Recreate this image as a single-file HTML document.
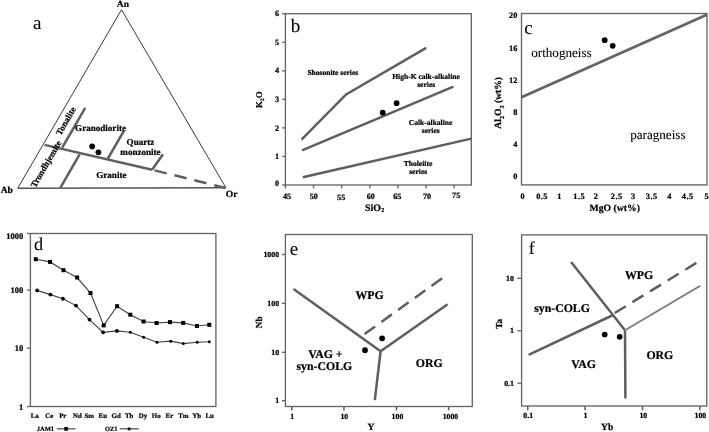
<!DOCTYPE html>
<html><head><meta charset="utf-8"><style>
html,body{margin:0;padding:0;background:#fff;width:709px;height:432px;overflow:hidden}
svg{display:block;will-change:transform}
text{font-family:"Liberation Serif",serif;fill:#000;stroke:#000;stroke-width:0.08px;text-rendering:geometricPrecision}
text[font-weight="bold"]{stroke-width:0.22px}
</style></head><body>
<svg width="709" height="432" viewBox="0 0 709 432">
<rect width="709" height="432" fill="#fff"/>
<line x1="17.80" y1="188.20" x2="225.80" y2="187.70" stroke="#555" stroke-width="1.45" />
<polyline points="17.80,188.10 121.50,9.70 225.80,187.60" fill="none" stroke="#3a3a3a" stroke-width="1.0" stroke-linejoin="miter"/>
<line x1="44.60" y1="144.90" x2="152.10" y2="169.80" stroke="#5f5f5f" stroke-width="2.5" />
<line x1="152.10" y1="169.80" x2="225.60" y2="188.00" stroke="#5f5f5f" stroke-width="2.5" stroke-dasharray="12.5 8" stroke-dashoffset="-2.5"/>
<line x1="85.20" y1="107.90" x2="62.20" y2="147.60" stroke="#5f5f5f" stroke-width="2.5" />
<line x1="79.60" y1="154.30" x2="60.30" y2="187.90" stroke="#5f5f5f" stroke-width="2.5" />
<line x1="124.20" y1="130.40" x2="107.60" y2="159.00" stroke="#5f5f5f" stroke-width="2.5" />
<line x1="163.00" y1="154.30" x2="152.10" y2="169.80" stroke="#5f5f5f" stroke-width="2.5" />
<circle cx="92.20" cy="146.40" r="2.85" fill="#000"/>
<circle cx="98.40" cy="152.30" r="2.85" fill="#000"/>
<text x="116.74" y="6.90" font-size="9.56" font-weight="bold" text-anchor="start" >An</text>
<text x="0.63" y="193.00" font-size="9.56" font-weight="bold" text-anchor="start" >Ab</text>
<text x="225.72" y="196.60" font-size="9.56" font-weight="bold" text-anchor="start" >Or</text>
<text x="32.88" y="28.90" font-size="19" font-weight="normal" text-anchor="start" >a</text>
<text x="75.12" y="131.10" font-size="9.07" font-weight="bold" text-anchor="start" >Granodiorite</text>
<text x="126.60" y="145.20" font-size="9.07" font-weight="bold" text-anchor="start" >Quartz</text>
<text x="120.36" y="155.30" font-size="9.07" font-weight="bold" text-anchor="start" >monzonite</text>
<text x="96.24" y="177.60" font-size="9.07" font-weight="bold" text-anchor="start" >Granite</text>
<text x="68.56" y="122.48" font-size="8.95" font-weight="bold" text-anchor="middle" transform="rotate(-60 68.56 122.48)" >Tonalite</text>
<text x="48.56" y="165.48" font-size="8.95" font-weight="bold" text-anchor="middle" transform="rotate(-60 48.56 165.48)" >Trondhjemite</text>
<rect x="285.40" y="13.70" width="185.90" height="171.30" fill="none" stroke="#666666" stroke-width="1.35"/>
<line x1="282.20" y1="185.00" x2="285.40" y2="185.00" stroke="#666666" stroke-width="1.35" />
<text x="279.20" y="186.10" font-size="8.2" font-weight="bold" text-anchor="end" >0</text>
<line x1="282.20" y1="156.45" x2="285.40" y2="156.45" stroke="#666666" stroke-width="1.35" />
<text x="279.20" y="159.05" font-size="8.2" font-weight="bold" text-anchor="end" >1</text>
<line x1="282.20" y1="127.90" x2="285.40" y2="127.90" stroke="#666666" stroke-width="1.35" />
<text x="279.20" y="130.50" font-size="8.2" font-weight="bold" text-anchor="end" >2</text>
<line x1="282.20" y1="99.35" x2="285.40" y2="99.35" stroke="#666666" stroke-width="1.35" />
<text x="279.20" y="101.95" font-size="8.2" font-weight="bold" text-anchor="end" >3</text>
<line x1="282.20" y1="70.80" x2="285.40" y2="70.80" stroke="#666666" stroke-width="1.35" />
<text x="279.20" y="73.40" font-size="8.2" font-weight="bold" text-anchor="end" >4</text>
<line x1="282.20" y1="42.25" x2="285.40" y2="42.25" stroke="#666666" stroke-width="1.35" />
<text x="279.20" y="44.85" font-size="8.2" font-weight="bold" text-anchor="end" >5</text>
<line x1="282.20" y1="13.70" x2="285.40" y2="13.70" stroke="#666666" stroke-width="1.35" />
<text x="279.20" y="16.30" font-size="8.2" font-weight="bold" text-anchor="end" >6</text>
<line x1="285.40" y1="185.00" x2="285.40" y2="188.50" stroke="#666666" stroke-width="1.35" />
<text x="287.00" y="198.70" font-size="8.2" font-weight="bold" text-anchor="middle" >45</text>
<line x1="313.53" y1="185.00" x2="313.53" y2="188.50" stroke="#666666" stroke-width="1.35" />
<text x="313.80" y="198.60" font-size="8.2" font-weight="bold" text-anchor="middle" >50</text>
<line x1="341.67" y1="185.00" x2="341.67" y2="188.50" stroke="#666666" stroke-width="1.35" />
<text x="341.20" y="199.80" font-size="8.2" font-weight="bold" text-anchor="middle" >55</text>
<line x1="369.80" y1="185.00" x2="369.80" y2="188.50" stroke="#666666" stroke-width="1.35" />
<text x="370.80" y="198.90" font-size="8.2" font-weight="bold" text-anchor="middle" >60</text>
<line x1="397.94" y1="185.00" x2="397.94" y2="188.50" stroke="#666666" stroke-width="1.35" />
<text x="397.30" y="199.40" font-size="8.2" font-weight="bold" text-anchor="middle" >65</text>
<line x1="426.07" y1="185.00" x2="426.07" y2="188.50" stroke="#666666" stroke-width="1.35" />
<text x="427.00" y="198.60" font-size="8.2" font-weight="bold" text-anchor="middle" >70</text>
<line x1="454.21" y1="185.00" x2="454.21" y2="188.50" stroke="#666666" stroke-width="1.35" />
<text x="456.20" y="197.70" font-size="8.2" font-weight="bold" text-anchor="middle" >75</text>
<polyline points="301.50,139.60 346.10,94.40 426.20,47.80" fill="none" stroke="#5f5f5f" stroke-width="2.5" />
<line x1="302.00" y1="150.40" x2="453.40" y2="86.70" stroke="#5f5f5f" stroke-width="2.5" />
<line x1="302.80" y1="177.20" x2="471.30" y2="138.60" stroke="#5f5f5f" stroke-width="2.5" />
<circle cx="382.70" cy="112.70" r="2.85" fill="#000"/>
<circle cx="396.60" cy="103.20" r="2.85" fill="#000"/>
<text x="290.66" y="32.40" font-size="19" font-weight="normal" text-anchor="start" >b</text>
<text x="307.38" y="75.20" font-size="7.54" font-weight="bold" text-anchor="start" >Shosonite series</text>
<text x="392.24" y="78.60" font-size="7.54" font-weight="bold" text-anchor="start" >High-K calk-alkaline</text>
<text x="417.20" y="87.30" font-size="7.54" font-weight="bold" text-anchor="start" >series</text>
<text x="408.79" y="125.30" font-size="7.54" font-weight="bold" text-anchor="start" >Calk-alkaline</text>
<text x="421.75" y="133.40" font-size="7.54" font-weight="bold" text-anchor="start" >series</text>
<text x="403.81" y="166.00" font-size="7.54" font-weight="bold" text-anchor="start" >Tholeiite</text>
<text x="409.20" y="174.30" font-size="7.54" font-weight="bold" text-anchor="start" >series</text>
<text x="365" y="210.5" font-size="9.9" font-weight="bold" transform="matrix(1 0 0 1 0 0.000)">SiO<tspan font-size="6" dx="0.4" dy="1.9">2</tspan></text>
<text x="262.5" y="107.9" font-size="8.9" font-weight="bold" transform="rotate(-90 262.5 107.9)">K<tspan font-size="5.4" dy="1.6">2</tspan><tspan dy="-1.6">O</tspan></text>
<rect x="521.50" y="13.50" width="185.50" height="171.40" fill="none" stroke="#666666" stroke-width="1.35"/>
<text x="517.30" y="179.00" font-size="8.3" font-weight="bold" text-anchor="end" >0</text>
<text x="517.30" y="146.88" font-size="8.3" font-weight="bold" text-anchor="end" >4</text>
<text x="517.30" y="114.76" font-size="8.3" font-weight="bold" text-anchor="end" >8</text>
<text x="517.30" y="82.64" font-size="8.3" font-weight="bold" text-anchor="end" >12</text>
<text x="517.30" y="50.52" font-size="8.3" font-weight="bold" text-anchor="end" >16</text>
<text x="517.30" y="18.40" font-size="8.3" font-weight="bold" text-anchor="end" >20</text>
<text x="522.50" y="198.90" font-size="8.3" font-weight="bold" text-anchor="middle" >0</text>
<text x="542.10" y="198.90" font-size="8.3" font-weight="bold" text-anchor="middle" letter-spacing="0.45">0.5</text>
<text x="559.25" y="198.90" font-size="8.3" font-weight="bold" text-anchor="middle" >1</text>
<text x="579.20" y="198.90" font-size="8.3" font-weight="bold" text-anchor="middle" letter-spacing="0.45">1.5</text>
<text x="595.90" y="198.90" font-size="8.3" font-weight="bold" text-anchor="middle" >2</text>
<text x="616.70" y="198.90" font-size="8.3" font-weight="bold" text-anchor="middle" letter-spacing="0.45">2.5</text>
<text x="633.00" y="198.90" font-size="8.3" font-weight="bold" text-anchor="middle" >3</text>
<text x="651.70" y="198.90" font-size="8.3" font-weight="bold" text-anchor="middle" letter-spacing="0.45">3.5</text>
<text x="669.30" y="198.90" font-size="8.3" font-weight="bold" text-anchor="middle" >4</text>
<text x="687.70" y="198.90" font-size="8.3" font-weight="bold" text-anchor="middle" letter-spacing="0.45">4.5</text>
<text x="706.60" y="198.90" font-size="8.3" font-weight="bold" text-anchor="middle" >5</text>
<line x1="521.50" y1="97.20" x2="706.80" y2="14.70" stroke="#646464" stroke-width="2.8" />
<circle cx="604.70" cy="40.20" r="2.85" fill="#000"/>
<circle cx="612.70" cy="45.80" r="2.85" fill="#000"/>
<text x="524.18" y="34.00" font-size="19" font-weight="normal" text-anchor="start" >c</text>
<text x="531.23" y="56.50" font-size="13.12" font-weight="normal" text-anchor="start" >orthogneiss</text>
<text x="630.20" y="138.50" font-size="13.12" font-weight="normal" text-anchor="start" >paragneiss</text>
<text x="589.54" y="210.80" font-size="9.73" font-weight="bold" text-anchor="start" >MgO (wt%)</text>
<text x="501.6" y="129.2" font-size="9.6" font-weight="bold" transform="rotate(-90 501.3 129)">Al<tspan font-size="6.2" dy="2.3">2</tspan><tspan dy="-2.3">O</tspan><tspan font-size="6.2" dy="2.3">3</tspan><tspan dy="-2.3"> (wt%)</tspan></text>
<rect x="30.40" y="233.50" width="185.50" height="173.00" fill="none" stroke="#666666" stroke-width="1.35"/>
<line x1="27.00" y1="233.50" x2="30.40" y2="233.50" stroke="#666666" stroke-width="1.35" />
<text x="23.30" y="239.30" font-size="8.5" font-weight="bold" text-anchor="end" >1000</text>
<line x1="27.00" y1="290.10" x2="30.40" y2="290.10" stroke="#666666" stroke-width="1.35" />
<text x="23.30" y="293.00" font-size="8.5" font-weight="bold" text-anchor="end" >100</text>
<line x1="27.00" y1="348.20" x2="30.40" y2="348.20" stroke="#666666" stroke-width="1.35" />
<text x="23.30" y="351.10" font-size="8.5" font-weight="bold" text-anchor="end" >10</text>
<line x1="27.00" y1="406.50" x2="30.40" y2="406.50" stroke="#666666" stroke-width="1.35" />
<text x="23.30" y="410.40" font-size="8.5" font-weight="bold" text-anchor="end" >1</text>
<text x="34.70" y="417.60" font-size="6.9" font-weight="bold" text-anchor="middle" >La</text>
<text x="49.20" y="417.60" font-size="6.9" font-weight="bold" text-anchor="middle" >Ce</text>
<text x="62.80" y="417.60" font-size="6.9" font-weight="bold" text-anchor="middle" >Pr</text>
<text x="77.40" y="417.60" font-size="6.9" font-weight="bold" text-anchor="middle" >Nd</text>
<text x="89.30" y="417.60" font-size="6.9" font-weight="bold" text-anchor="middle" >Sm</text>
<text x="102.80" y="417.60" font-size="6.9" font-weight="bold" text-anchor="middle" >Eu</text>
<text x="116.20" y="417.60" font-size="6.9" font-weight="bold" text-anchor="middle" >Gd</text>
<text x="129.20" y="417.60" font-size="6.9" font-weight="bold" text-anchor="middle" >Tb</text>
<text x="142.90" y="417.60" font-size="6.9" font-weight="bold" text-anchor="middle" >Dy</text>
<text x="156.20" y="417.60" font-size="6.9" font-weight="bold" text-anchor="middle" >Ho</text>
<text x="169.40" y="417.60" font-size="6.9" font-weight="bold" text-anchor="middle" >Er</text>
<text x="183.30" y="417.60" font-size="6.9" font-weight="bold" text-anchor="middle" >Tm</text>
<text x="196.70" y="417.60" font-size="6.9" font-weight="bold" text-anchor="middle" >Yb</text>
<text x="209.70" y="417.60" font-size="6.9" font-weight="bold" text-anchor="middle" >Lu</text>
<polyline points="35.80,259.20 50.00,261.90 63.50,270.20 77.10,277.50 90.50,293.00 103.70,325.40 117.10,306.20 130.30,314.70 143.60,321.50 156.60,323.00 170.00,322.10 183.20,322.90 197.00,326.00 209.30,324.80" fill="none" stroke="#444" stroke-width="1.15" />
<polyline points="37.10,290.40 50.40,294.60 62.90,298.75 76.00,305.60 89.50,319.60 103.10,332.30 116.90,330.90 130.40,332.30 143.60,337.30 157.00,342.20 170.80,341.20 183.30,343.60 197.10,342.20 209.30,341.80" fill="none" stroke="#444" stroke-width="1.15" />
<rect x="33.80" y="257.20" width="4" height="4" fill="#000"/>
<rect x="48.00" y="259.90" width="4" height="4" fill="#000"/>
<rect x="61.50" y="268.20" width="4" height="4" fill="#000"/>
<rect x="75.10" y="275.50" width="4" height="4" fill="#000"/>
<rect x="88.50" y="291.00" width="4" height="4" fill="#000"/>
<rect x="101.70" y="323.40" width="4" height="4" fill="#000"/>
<rect x="115.10" y="304.20" width="4" height="4" fill="#000"/>
<rect x="128.30" y="312.70" width="4" height="4" fill="#000"/>
<rect x="141.60" y="319.50" width="4" height="4" fill="#000"/>
<rect x="154.60" y="321.00" width="4" height="4" fill="#000"/>
<rect x="168.00" y="320.10" width="4" height="4" fill="#000"/>
<rect x="181.20" y="320.90" width="4" height="4" fill="#000"/>
<rect x="195.00" y="324.00" width="4" height="4" fill="#000"/>
<rect x="207.30" y="322.80" width="4" height="4" fill="#000"/>
<circle cx="37.10" cy="290.40" r="1.9" fill="#000"/>
<circle cx="50.40" cy="294.60" r="1.9" fill="#000"/>
<circle cx="62.90" cy="298.75" r="1.9" fill="#000"/>
<circle cx="76.00" cy="305.60" r="1.9" fill="#000"/>
<circle cx="89.50" cy="319.60" r="1.9" fill="#000"/>
<circle cx="103.10" cy="332.30" r="1.9" fill="#000"/>
<circle cx="116.90" cy="330.90" r="1.9" fill="#000"/>
<circle cx="130.40" cy="332.30" r="1.5" fill="#000"/>
<circle cx="143.60" cy="337.30" r="1.5" fill="#000"/>
<circle cx="157.00" cy="342.20" r="1.5" fill="#000"/>
<circle cx="170.80" cy="341.20" r="1.5" fill="#000"/>
<circle cx="183.30" cy="343.60" r="1.5" fill="#000"/>
<circle cx="197.10" cy="342.20" r="1.5" fill="#000"/>
<circle cx="209.30" cy="341.80" r="1.5" fill="#000"/>
<text x="33.96" y="250.30" font-size="18.2" font-weight="normal" text-anchor="start" >d</text>
<text x="36.75" y="430.70" font-size="6.5" font-weight="bold" text-anchor="start" >JAM1</text>
<line x1="56.80" y1="428.80" x2="75.50" y2="428.80" stroke="#555" stroke-width="1.3" />
<rect x="64.2" y="426.9" width="3.8" height="3.8" rx="0.8" fill="#000"/>
<text x="104.96" y="430.70" font-size="6.5" font-weight="bold" text-anchor="start" >OZ1</text>
<line x1="119.80" y1="428.80" x2="138.80" y2="428.80" stroke="#555" stroke-width="1.3" />
<circle cx="129.10" cy="428.80" r="1.6" fill="#000"/>
<rect x="285.40" y="234.50" width="186.90" height="172.00" fill="none" stroke="#666666" stroke-width="1.35"/>
<line x1="281.90" y1="254.50" x2="285.40" y2="254.50" stroke="#666666" stroke-width="1.35" />
<text x="279.20" y="257.00" font-size="7.9" font-weight="bold" text-anchor="end" >1000</text>
<line x1="281.90" y1="303.30" x2="285.40" y2="303.30" stroke="#666666" stroke-width="1.35" />
<text x="279.20" y="305.80" font-size="7.9" font-weight="bold" text-anchor="end" >100</text>
<line x1="281.90" y1="352.30" x2="285.40" y2="352.30" stroke="#666666" stroke-width="1.35" />
<text x="279.20" y="354.80" font-size="7.9" font-weight="bold" text-anchor="end" >10</text>
<line x1="281.90" y1="400.70" x2="285.40" y2="400.70" stroke="#666666" stroke-width="1.35" />
<text x="279.20" y="403.20" font-size="7.9" font-weight="bold" text-anchor="end" >1</text>
<line x1="291.80" y1="406.50" x2="291.80" y2="410.40" stroke="#666666" stroke-width="1.6" />
<text x="292.10" y="418.60" font-size="7.8" font-weight="bold" text-anchor="middle" >1</text>
<line x1="344.00" y1="406.50" x2="344.00" y2="410.40" stroke="#666666" stroke-width="1.6" />
<text x="344.30" y="418.60" font-size="7.8" font-weight="bold" text-anchor="middle" >10</text>
<line x1="396.50" y1="406.50" x2="396.50" y2="410.40" stroke="#666666" stroke-width="1.6" />
<text x="397.45" y="418.60" font-size="7.8" font-weight="bold" text-anchor="middle" >100</text>
<line x1="448.70" y1="406.50" x2="448.70" y2="410.40" stroke="#666666" stroke-width="1.6" />
<text x="450.45" y="418.60" font-size="7.8" font-weight="bold" text-anchor="middle" >1000</text>
<line x1="293.50" y1="289.00" x2="380.60" y2="351.25" stroke="#5f5f5f" stroke-width="2.5" />
<line x1="380.60" y1="351.25" x2="374.80" y2="400.20" stroke="#5f5f5f" stroke-width="2.5" />
<line x1="380.60" y1="351.25" x2="447.70" y2="304.30" stroke="#5f5f5f" stroke-width="2.5" />
<line x1="364.60" y1="334.00" x2="442.90" y2="277.70" stroke="#5f5f5f" stroke-width="2.5" stroke-dasharray="13 7.6"/>
<circle cx="365.00" cy="350.20" r="2.85" fill="#000"/>
<circle cx="382.10" cy="338.30" r="2.85" fill="#000"/>
<text x="289.82" y="255.40" font-size="19" font-weight="normal" text-anchor="start" >e</text>
<text x="355.49" y="299.10" font-size="11.8" font-weight="bold" text-anchor="start" >WPG</text>
<text x="308.15" y="357.70" font-size="11.8" font-weight="bold" text-anchor="start" >VAG +</text>
<text x="296.48" y="369.50" font-size="11.8" font-weight="bold" text-anchor="start" >syn-COLG</text>
<text x="415.82" y="366.90" font-size="11.8" font-weight="bold" text-anchor="start" >ORG</text>
<text x="370.90" y="430.40" font-size="9.6" font-weight="bold" text-anchor="middle" >Y</text>
<text x="262.30" y="322.25" font-size="9.2" font-weight="bold" text-anchor="middle" transform="rotate(-90 262.30 322.25)" >Nb</text>
<rect x="521.60" y="234.90" width="185.20" height="171.10" fill="none" stroke="#666666" stroke-width="1.35"/>
<line x1="517.40" y1="278.30" x2="521.60" y2="278.30" stroke="#666666" stroke-width="1.35" />
<text x="514.00" y="280.80" font-size="7.9" font-weight="bold" text-anchor="end" >10</text>
<line x1="517.40" y1="330.80" x2="521.60" y2="330.80" stroke="#666666" stroke-width="1.35" />
<text x="514.00" y="333.30" font-size="7.9" font-weight="bold" text-anchor="end" >1</text>
<line x1="517.40" y1="383.20" x2="521.60" y2="383.20" stroke="#666666" stroke-width="1.35" />
<text x="514.00" y="385.70" font-size="7.9" font-weight="bold" text-anchor="end" >0.1</text>
<line x1="527.70" y1="406.00" x2="527.70" y2="410.30" stroke="#666666" stroke-width="1.6" />
<text x="528.20" y="418.40" font-size="7.85" font-weight="bold" text-anchor="middle" >0.1</text>
<line x1="585.10" y1="406.00" x2="585.10" y2="410.30" stroke="#666666" stroke-width="1.6" />
<text x="585.50" y="418.40" font-size="7.85" font-weight="bold" text-anchor="middle" >1</text>
<line x1="642.50" y1="406.00" x2="642.50" y2="410.30" stroke="#666666" stroke-width="1.6" />
<text x="643.30" y="418.40" font-size="7.85" font-weight="bold" text-anchor="middle" >10</text>
<line x1="699.90" y1="406.00" x2="699.90" y2="410.30" stroke="#666666" stroke-width="1.6" />
<text x="700.40" y="418.40" font-size="7.85" font-weight="bold" text-anchor="middle" >100</text>
<line x1="571.10" y1="262.00" x2="625.00" y2="330.30" stroke="#5f5f5f" stroke-width="2.5" />
<line x1="625.00" y1="330.30" x2="625.40" y2="398.60" stroke="#5f5f5f" stroke-width="2.5" />
<line x1="625.00" y1="330.30" x2="700.30" y2="285.70" stroke="#7c7c7c" stroke-width="1.9" />
<line x1="528.60" y1="354.90" x2="612.10" y2="315.50" stroke="#5f5f5f" stroke-width="2.5" />
<line x1="614.70" y1="313.00" x2="696.60" y2="262.80" stroke="#5f5f5f" stroke-width="2.5" stroke-dasharray="13 7.7"/>
<circle cx="604.70" cy="334.50" r="2.85" fill="#000"/>
<circle cx="619.70" cy="336.80" r="2.85" fill="#000"/>
<text x="528.70" y="253.80" font-size="18" font-weight="normal" text-anchor="start" >f</text>
<text x="625.04" y="279.40" font-size="11.8" font-weight="bold" text-anchor="start" >WPG</text>
<text x="534.18" y="311.60" font-size="11.8" font-weight="bold" text-anchor="start" >syn-COLG</text>
<text x="571.18" y="367.60" font-size="11.8" font-weight="bold" text-anchor="start" >VAG</text>
<text x="646.42" y="358.60" font-size="11.8" font-weight="bold" text-anchor="start" >ORG</text>
<text x="607.20" y="430.20" font-size="9.6" font-weight="bold" text-anchor="middle" >Yb</text>
<text x="502.20" y="323.90" font-size="9.2" font-weight="bold" text-anchor="middle" transform="rotate(-90 502.20 323.90)" >Ta</text>
</svg>
</body></html>
